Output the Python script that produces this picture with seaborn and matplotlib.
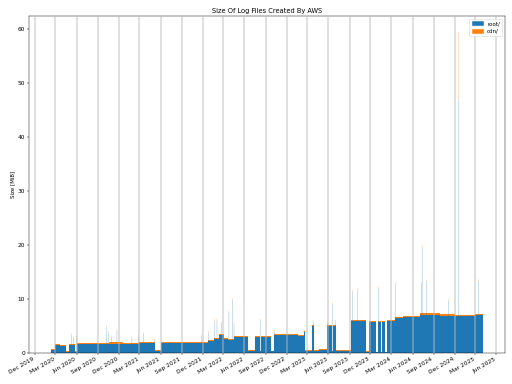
import matplotlib
matplotlib.use("Agg")
import matplotlib.pyplot as plt
import matplotlib.dates as mdates
from matplotlib.patches import Patch
import pandas as pd
import seaborn as sns

title = "Size Of Log Files Created By AWS"
ylabel = "Size [MiB]"
series_names = ["root/", "cdn/"]

# Periods of roughly constant daily log volume (MiB per day)
period_start = [
    "2020-02-09", "2020-03-01", "2020-03-22", "2020-04-17", "2020-04-30", "2020-05-25",
    "2020-06-03", "2020-09-01", "2020-10-20", "2020-12-20", "2021-03-01", "2021-05-10",
    "2021-06-01", "2021-09-01", "2021-12-01", "2021-12-23", "2022-01-18", "2022-02-09",
    "2022-03-03", "2022-03-21", "2022-04-17", "2022-06-17", "2022-07-16", "2022-08-09",
    "2022-08-13", "2022-09-24", "2022-10-09", "2023-01-18", "2023-02-13", "2023-02-20",
    "2023-03-23", "2023-04-01", "2023-04-20", "2023-05-28", "2023-06-17", "2023-06-23",
    "2023-07-03", "2023-09-06", "2023-11-11", "2023-11-24", "2023-12-24", "2024-01-03",
    "2024-01-15", "2024-01-20", "2024-02-04", "2024-02-11", "2024-03-16", "2024-04-20",
    "2024-04-22", "2024-07-02", "2024-09-27", "2024-12-01", "2025-03-01",
]
period_end = [
    "2020-03-01", "2020-03-22", "2020-04-17", "2020-04-30", "2020-05-25", "2020-06-03",
    "2020-09-01", "2020-10-20", "2020-12-20", "2021-03-01", "2021-05-10", "2021-06-01",
    "2021-09-01", "2021-12-01", "2021-12-23", "2022-01-18", "2022-02-09", "2022-03-03",
    "2022-03-21", "2022-04-17", "2022-06-17", "2022-07-16", "2022-08-09", "2022-08-13",
    "2022-09-24", "2022-10-09", "2023-01-18", "2023-02-13", "2023-02-20", "2023-03-23",
    "2023-04-01", "2023-04-20", "2023-05-28", "2023-06-17", "2023-06-23", "2023-07-03",
    "2023-09-06", "2023-11-11", "2023-11-24", "2023-12-24", "2024-01-03", "2024-01-15",
    "2024-01-20", "2024-02-04", "2024-02-11", "2024-03-16", "2024-04-20", "2024-04-22",
    "2024-07-02", "2024-09-27", "2024-12-01", "2025-03-01", "2025-04-05",
]
root_mib = [
    0.45, 1.40, 1.30, 0.20, 1.45, 0.20,
    1.55, 1.60, 1.70, 1.55, 1.85, 0.35,
    1.75, 1.85, 1.75, 2.15, 2.55, 3.30,
    2.45, 2.30, 2.95, 0.35, 2.95, 0.30,
    2.95, 0.30, 3.30, 3.05, 3.80, 0.35,
    4.90, 0.35, 0.45, 5.00, 0.30, 4.90,
    0.35, 5.85, 0.20, 5.75, 0.15, 5.65,
    0.15, 5.70, 0.15, 5.80, 6.35, 0.40,
    6.60, 7.00, 6.85, 6.80, 6.95,
]
cdn_mib = [
    0.30, 0.20, 0.15, 0.10, 0.15, 0.05,
    0.20, 0.20, 0.20, 0.20, 0.20, 0.15,
    0.20, 0.20, 0.20, 0.22, 0.22, 0.25,
    0.22, 0.20, 0.22, 0.15, 0.22, 0.10,
    0.22, 0.10, 0.22, 0.20, 0.25, 0.15,
    0.22, 0.15, 0.15, 0.22, 0.10, 0.22,
    0.15, 0.22, 0.10, 0.22, 0.05, 0.22,
    0.05, 0.22, 0.05, 0.22, 0.25, 0.10,
    0.25, 0.28, 0.25, 0.25, 0.25,
]

# Single days with unusually large logs
spike_day = [
    "2020-05-10", "2020-05-19", "2020-05-31", "2020-10-10", "2020-10-16", "2020-10-30",
    "2020-11-23", "2021-01-27", "2021-02-23", "2021-03-20", "2021-05-04", "2021-11-27",
    "2021-12-27", "2022-01-22", "2022-02-01", "2022-02-20", "2022-03-25", "2022-04-08",
    "2022-04-16", "2022-08-11", "2022-10-10", "2023-02-17", "2023-03-28", "2023-05-28",
    "2023-06-18", "2023-07-01", "2023-09-13", "2023-10-05", "2024-01-06", "2024-03-19",
    "2024-07-08", "2024-07-12", "2024-07-31", "2024-11-05", "2024-12-16", "2025-03-13",
]
spike_root_mib = [
    3.3, 2.7, 2.9, 4.7, 3.7, 2.9,
    4.0, 2.8, 3.0, 3.5, 2.3, 3.1,
    3.7, 5.9, 6.1, 5.5, 7.5, 9.8,
    5.3, 6.0, 4.0, 3.9, 5.7, 5.5,
    9.0, 5.8, 11.3, 11.6, 11.9, 12.7,
    12.8, 19.5, 13.2, 9.6, 47.0, 13.2,
]
spike_cdn_mib = [
    0.3, 0.3, 0.3, 0.3, 0.3, 0.3,
    0.3, 0.3, 0.3, 0.3, 0.3, 0.3,
    0.3, 0.3, 0.3, 0.3, 0.3, 0.3,
    0.3, 0.3, 0.3, 0.3, 0.3, 0.3,
    0.3, 0.3, 0.4, 0.4, 0.4, 0.4,
    0.4, 0.4, 0.4, 0.4, 12.5, 0.4,
]

sns.set_style("ticks")
plt.rcParams["font.family"] = ["DejaVu Sans"]
plt.rcParams.update({
    "font.size": 10, "axes.titlesize": 12, "axes.labelsize": 10,
    "xtick.labelsize": 10.5, "ytick.labelsize": 10.5, "legend.fontsize": 10,
    "axes.edgecolor": "black", "xtick.color": "black", "ytick.color": "black",
    "text.color": "black", "axes.labelcolor": "black",
})
palette = sns.color_palette("tab10")
c_root, c_cdn = palette[0], palette[1]

fig = plt.figure(figsize=(12.8, 9.6), dpi=40)
ax = fig.add_axes([29 / 512, 1 - 352.7 / 384, (505 - 29) / 512, (352.7 - 16) / 384])

p_start = mdates.date2num(pd.to_datetime(period_start))
p_end = mdates.date2num(pd.to_datetime(period_end))
p_width = p_end - p_start
ax.bar(p_start, root_mib, width=p_width, align="edge", color=c_root, linewidth=0)
ax.bar(p_start, cdn_mib, width=p_width, bottom=root_mib, align="edge", color=c_cdn, linewidth=0)

s_day = mdates.date2num(pd.to_datetime(spike_day))
ax.bar(s_day, spike_root_mib, width=1, align="edge", color=c_root, linewidth=0, snap=False)
ax.bar(s_day, spike_cdn_mib, width=1, bottom=spike_root_mib, align="edge", color=c_cdn,
       linewidth=0, snap=False)

ax.xaxis_date()
ax.xaxis.set_major_locator(mdates.MonthLocator(bymonth=[3, 6, 9, 12]))
ax.xaxis.set_major_formatter(mdates.DateFormatter("%b %Y"))
for lab in ax.get_xticklabels():
    lab.set_rotation(30)
    lab.set_ha("right")
ax.set_yticks([0, 10, 20, 30, 40, 50, 60])

ax.grid(axis="x", color="#bbbbbb", alpha=0.55, linewidth=3.0)
ax.set_axisbelow(False)
for sp in ax.spines.values():
    sp.set_visible(True)
    sp.set_linewidth(0.8)

ax.set_title(title)
ax.set_ylabel(ylabel)
ax.legend(handles=[Patch(color=c_root, label=series_names[0]),
                   Patch(color=c_cdn, label=series_names[1])],
          loc="upper right")

fig.savefig("out.png", dpi=40)
